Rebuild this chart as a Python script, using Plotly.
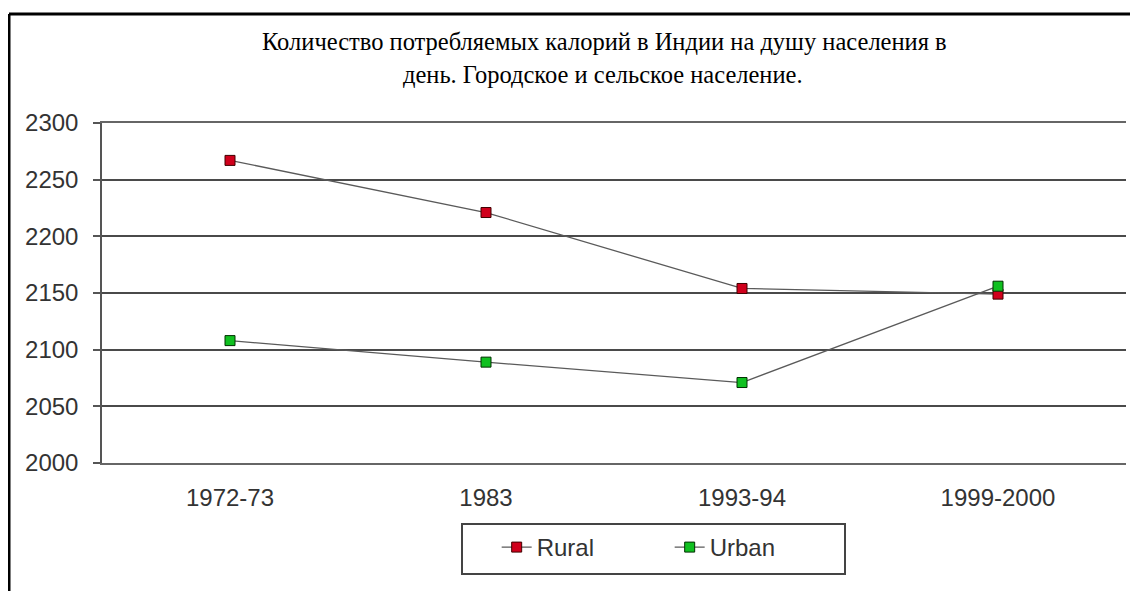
import plotly.graph_objects as go

categories = ["1972-73", "1983", "1993-94", "1999-2000"]
rural = [2267, 2221, 2154, 2149]
urban = [2108, 2089, 2071, 2156]
y_ticks = [2000, 2050, 2100, 2150, 2200, 2250, 2300]
title_line1 = "Количество потребляемых калорий в Индии на душу населения в"
title_line2 = "день. Городское и сельское население."

# page body has an 8px margin, so the figure is drawn 8px in from the window edge
OFF = 8
W, H = 1138 - OFF, 591 - OFF
L, R, T, B = 102 - OFF, 12, 123 - OFF, 591 - 463
pw, ph = W - L - R, H - T - B

def px(x):
    return (x - OFF - L) / pw

def py(y):
    return (H - B - (y - OFF)) / ph

fig = go.Figure()
fig.add_trace(go.Scatter(
    x=categories, y=rural, name="Rural", mode="lines+markers",
    line=dict(color="#5a5a5a", width=1.3),
    marker=dict(symbol="square", size=10, color="#d0001c",
                line=dict(color="#400000", width=1)),
))
fig.add_trace(go.Scatter(
    x=categories, y=urban, name="Urban", mode="lines+markers",
    line=dict(color="#5a5a5a", width=1.3),
    marker=dict(symbol="square", size=10, color="#10c020",
                line=dict(color="#003000", width=1)),
))

title_font = dict(family="Liberation Serif, Times New Roman, serif", size=24.5, color="black")

fig.update_layout(
    width=W, height=H,
    margin=dict(l=L, r=R, t=T, b=B, pad=0),
    paper_bgcolor="white", plot_bgcolor="white",
    font=dict(family="Liberation Sans, Arial, sans-serif", size=24, color="#333333"),
    showlegend=True,
    legend=dict(
        orientation="h", x=px(653), y=py(549), xanchor="center", yanchor="middle",
        xref="paper", yref="paper",
        bordercolor="#444444", borderwidth=2, bgcolor="white",
        font=dict(size=24, color="#333333"),
        title=dict(text="&nbsp;&nbsp;&nbsp;", side="left"),
        entrywidth=128, entrywidthmode="pixels",
    ),
    annotations=[
        dict(text=title_line1, xref="paper", yref="paper",
             x=px(604), y=py(42), xanchor="center", yanchor="middle",
             showarrow=False, font=title_font),
        dict(text=title_line2, xref="paper", yref="paper",
             x=px(603), y=py(74), xanchor="center", yanchor="middle",
             showarrow=False, font=title_font),
    ],
    shapes=[
        dict(type="line", xref="paper", yref="paper",
             x0=px(9), y0=py(14), x1=px(1145), y1=py(14),
             line=dict(color="black", width=3)),
        dict(type="line", xref="paper", yref="paper",
             x0=px(9), y0=py(14), x1=px(9), y1=py(600),
             line=dict(color="black", width=3)),
    ],
)

fig.update_xaxes(
    type="category", range=[-0.5, 3.5],
    showgrid=False, showline=True, mirror=True, linecolor="#666666", linewidth=1.5,
    ticks="", ticklabelstandoff=12, zeroline=False,
)
fig.update_yaxes(
    range=[2000, 2300], tickvals=y_ticks,
    showgrid=True, gridcolor="#4a4a4a", gridwidth=1.5,
    showline=True, linecolor="#555555", linewidth=1.5,
    ticks="outside", ticklen=7, tickcolor="#555555", tickwidth=1.5,
    ticklabelstandoff=10, zeroline=False,
)

fig.write_html("out.html")
